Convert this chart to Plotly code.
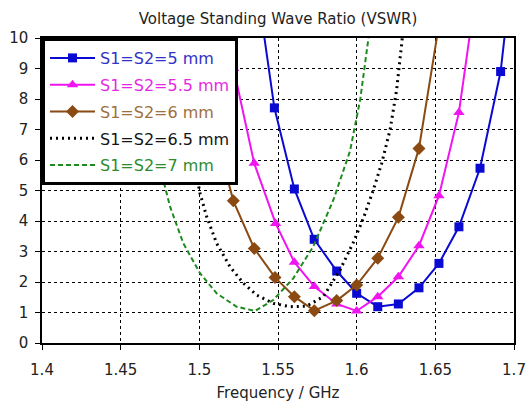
import plotly.graph_objects as go

# ---- data ----
blue_x = [1.5400, 1.5477, 1.5604, 1.5730, 1.5873, 1.6000, 1.6134, 1.6265, 1.6396, 1.6523, 1.6650, 1.6784, 1.6915, 1.6950]
blue_y = [10.5, 7.71, 5.05, 3.40, 2.36, 1.63, 1.19, 1.28, 1.81, 2.61, 3.81, 5.73, 8.90, 10.5]

pink_x = [1.5160, 1.5218, 1.5349, 1.5485, 1.5604, 1.5731, 1.5873, 1.6000, 1.6134, 1.6265, 1.6396, 1.6523, 1.6650, 1.6730]
pink_y = [10.5, 9.0, 5.89, 3.92, 2.65, 1.85, 1.28, 1.05, 1.52, 2.17, 3.19, 4.83, 7.56, 10.5]

brown_x = [1.4960, 1.5087, 1.5216, 1.5349, 1.5481, 1.5604, 1.5731, 1.5873, 1.6000, 1.6134, 1.6265, 1.6396, 1.6525]
brown_y = [10.5, 7.2, 4.66, 3.10, 2.15, 1.52, 1.06, 1.39, 1.90, 2.78, 4.12, 6.38, 10.5]

black_x = [1.4870, 1.4920, 1.4965, 1.5004, 1.5047, 1.5110, 1.5195, 1.5280, 1.5365, 1.5470, 1.5576, 1.5682,
           1.5788, 1.5894, 1.5979, 1.6042, 1.6106, 1.6159, 1.6212, 1.6254, 1.6290]
black_y = [10.2, 8.0, 6.0, 4.91, 4.14, 3.27, 2.50, 1.96, 1.57, 1.30, 1.19, 1.21,
           1.52, 2.39, 3.30, 4.08, 5.02, 5.89, 6.98, 8.30, 10.0]

green_x = [1.4660, 1.4715, 1.4771, 1.4814, 1.4898, 1.5004, 1.5110, 1.5237, 1.5354, 1.5470, 1.5597, 1.5724,
           1.5852, 1.5958, 1.6023, 1.6075]
green_y = [10.2, 7.0, 5.34, 4.47, 3.27, 2.29, 1.63, 1.19, 1.05, 1.41, 2.12, 3.16,
           4.69, 6.3, 8.0, 10.0]

series_names = ["S1=S2=5 mm", "S1=S2=5.5 mm", "S1=S2=6 mm", "S1=S2=6.5 mm", "S1=S2=7 mm"]
x_ticks = [1.4, 1.45, 1.5, 1.55, 1.6, 1.65, 1.7]
x_tick_labels = ["1.4", "1.45", "1.5", "1.55", "1.6", "1.65", "1.7"]
y_ticks = list(range(0, 11))

FONT = "DejaVu Sans"

styles = [
    dict(x=blue_x, y=blue_y, color="#0A0AD2", text="#3232C8", mode="lines+markers",
         line=dict(width=2), marker=dict(symbol="square", size=9)),
    dict(x=pink_x, y=pink_y, color="#F014F0", text="#E628E6", mode="lines+markers",
         line=dict(width=2), marker=dict(symbol="triangle-up", size=10)),
    dict(x=brown_x, y=brown_y, color="#8A4A12", text="#A0703C", mode="lines+markers",
         line=dict(width=2), marker=dict(symbol="diamond", size=10)),
    dict(x=black_x, y=black_y, color="#000000", text="#141414", mode="lines",
         line=dict(width=3, dash="2px,4px"), marker=None),
    dict(x=green_x, y=green_y, color="#1E8A1E", text="#2E8B2E", mode="lines",
         line=dict(width=2, dash="5px,3px"), marker=None),
]

fig = go.Figure()
for i, (name, s) in enumerate(zip(series_names, styles)):
    line = dict(s["line"])
    line["color"] = s["color"]
    kw = dict(x=s["x"], y=s["y"], mode=s["mode"], line=line,
              name=f"<span style='color:{s['text']}'>{name}</span>",
              legendgroup=f"g{i}")
    if s["marker"] is not None:
        m = dict(s["marker"])
        m["color"] = s["color"]
        kw["marker"] = m
    fig.add_trace(go.Scatter(**kw))

axis_common = dict(
    showline=True, linecolor="black", linewidth=1.5, mirror=True,
    ticks="outside", ticklen=5, tickcolor="black", tickwidth=1,
    showgrid=True, gridcolor="#000000", gridwidth=1, griddash="3px,3px",
    zeroline=False, tickfont=dict(family=FONT, size=15, color="#222"),
    automargin=False,
)

fig.update_xaxes(range=[1.4, 1.7], tickvals=x_ticks, ticktext=x_tick_labels,
                 title=dict(text="Frequency / GHz", font=dict(family=FONT, size=15, color="#222"), standoff=10),
                 ticklabelstandoff=7, **axis_common)
fig.update_yaxes(range=[0, 10], tickvals=y_ticks, ticklabelstandoff=4, **axis_common)

fig.update_layout(
    width=526, height=403,
    margin=dict(l=42, r=12, t=38, b=60, autoexpand=False),
    paper_bgcolor="white", plot_bgcolor="white",
    title=dict(text="Voltage Standing Wave Ratio (VSWR)", x=0.5, xref="paper", xanchor="center",
               y=1, yref="container", yanchor="top", pad=dict(t=13),
               font=dict(family=FONT, size=15, color="#222")),
    legend=dict(x=0, y=1, xanchor="left", yanchor="top", bgcolor="white",
                bordercolor="black", borderwidth=3, tracegroupgap=3, itemwidth=45,
                font=dict(family=FONT, size=16)),
    showlegend=True,
)

fig.write_html("out.html")
